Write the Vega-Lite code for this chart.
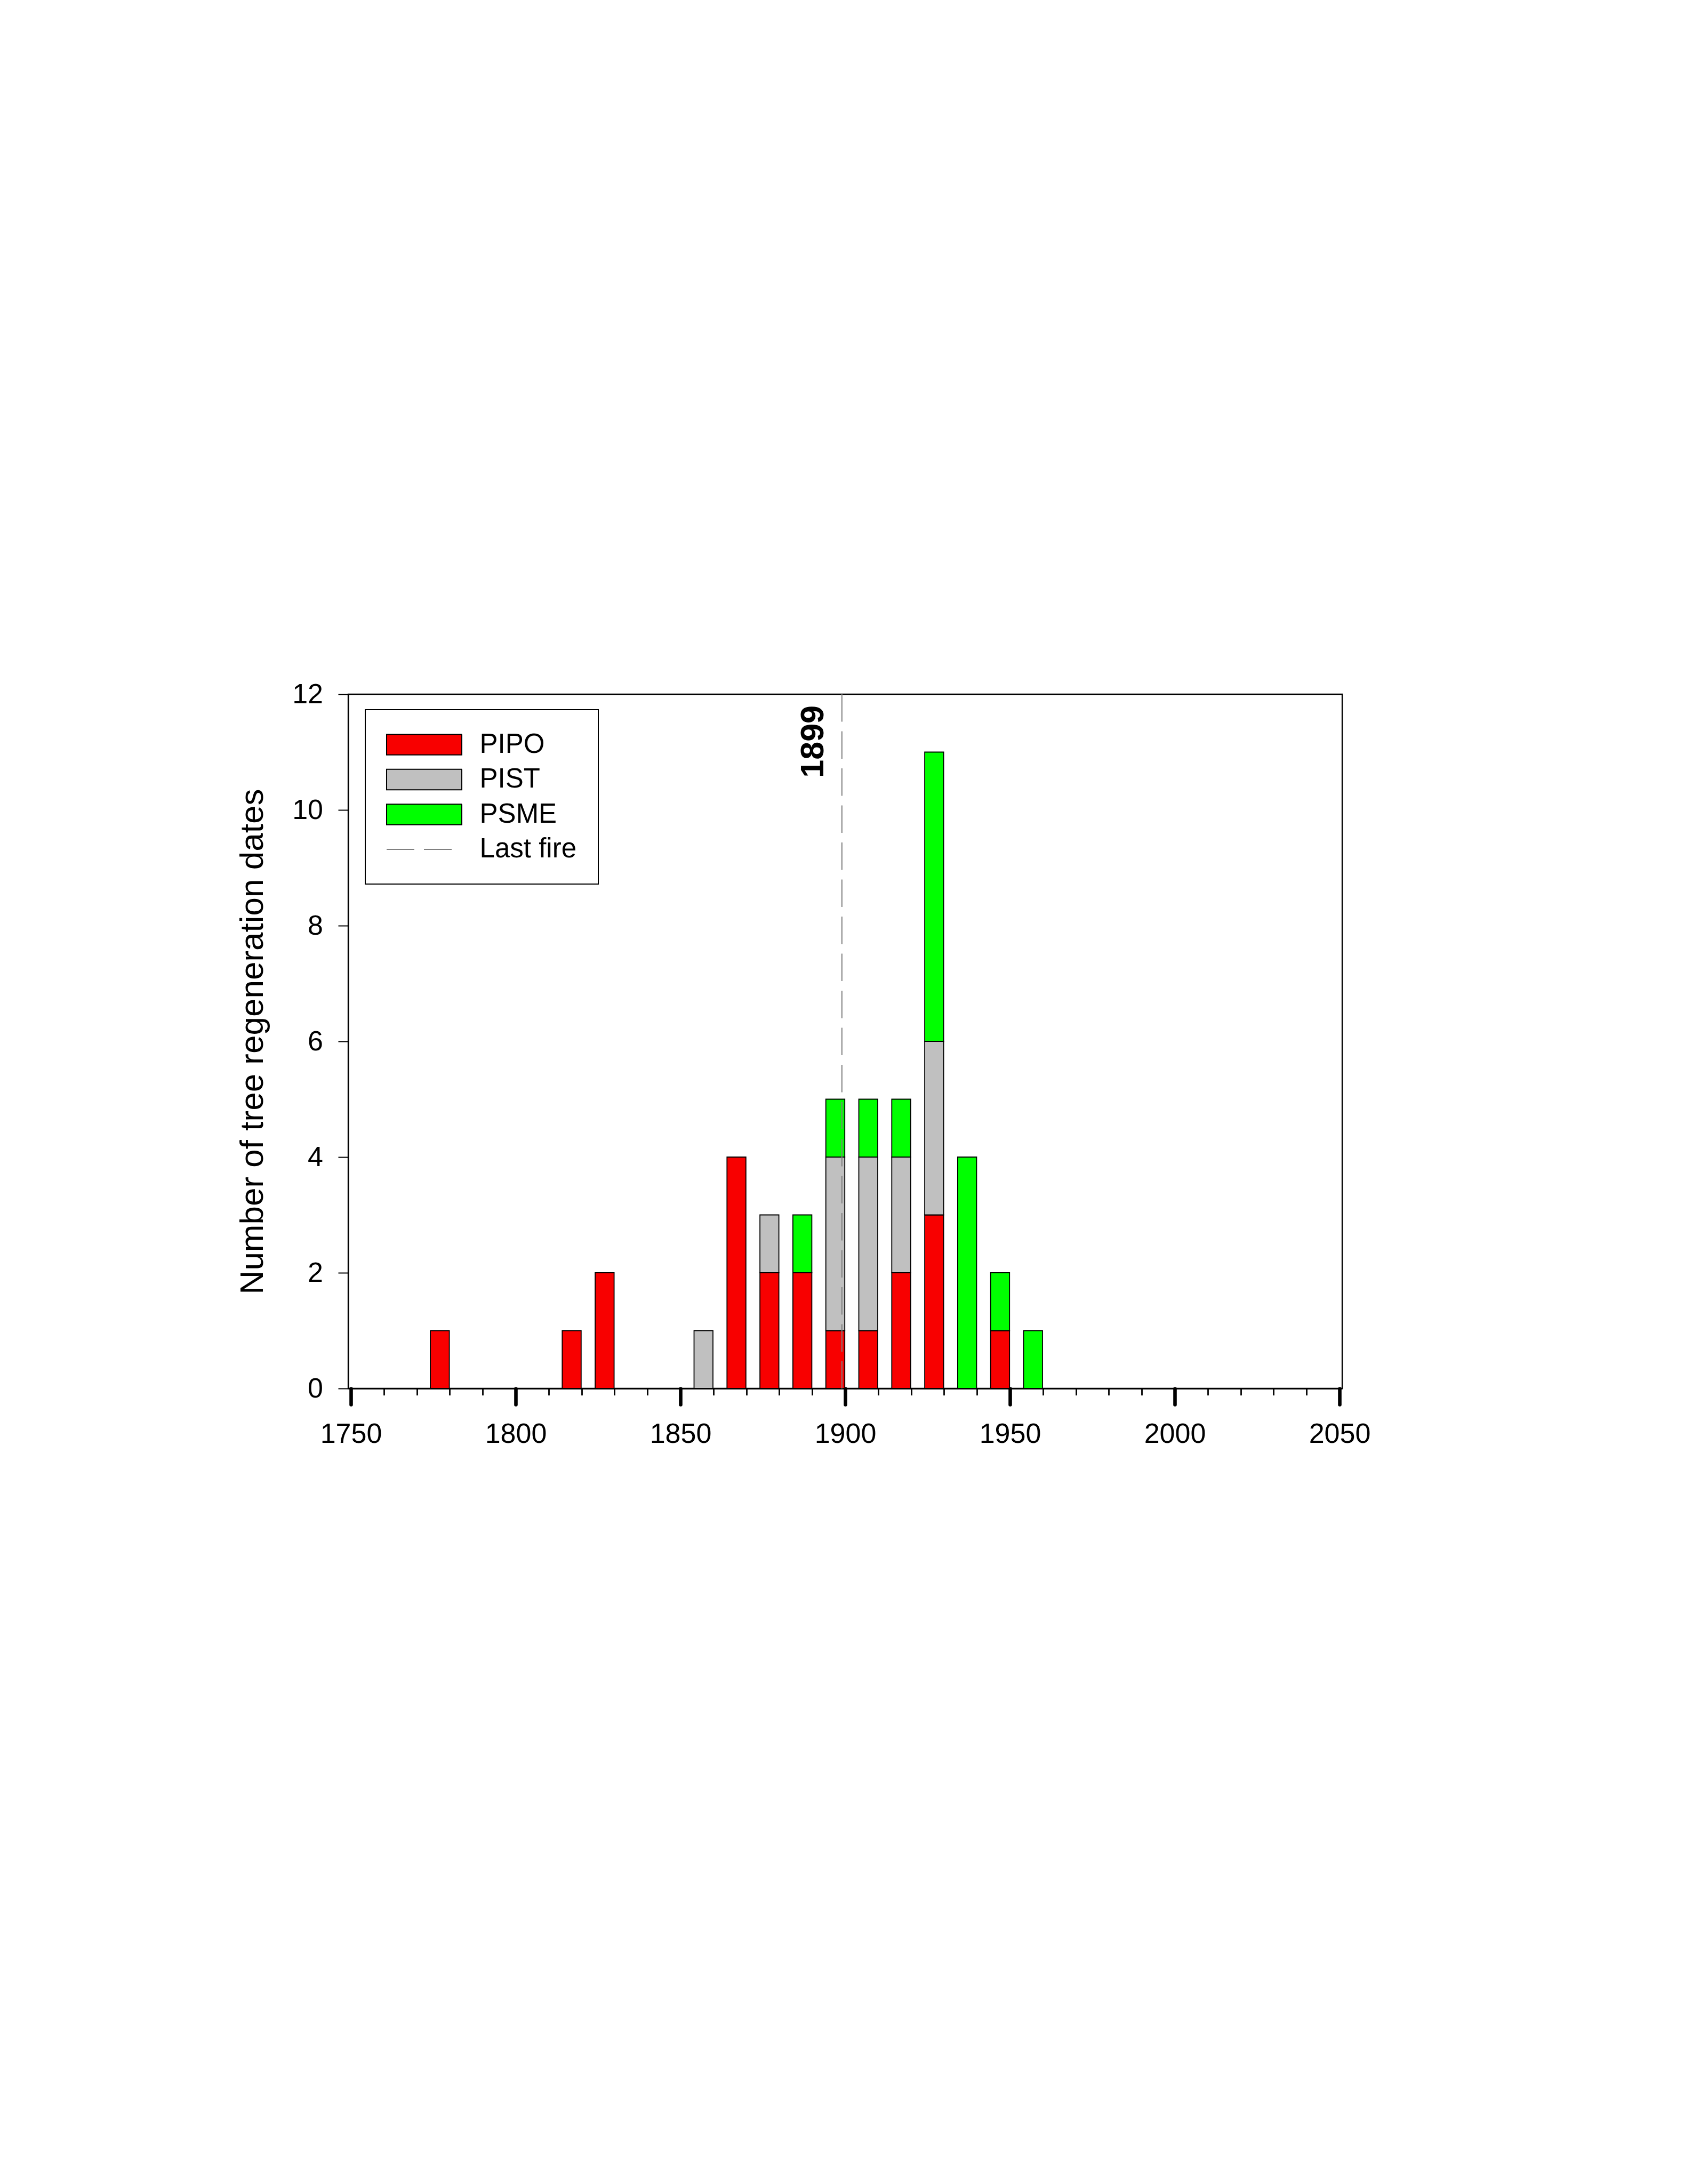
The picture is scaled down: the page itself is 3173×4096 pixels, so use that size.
{
  "$schema": "https://vega.github.io/schema/vega-lite/v6.json",
  "autosize": "none",
  "width": 1864,
  "height": 1302,
  "padding": {"left": 653, "top": 1302, "right": 656, "bottom": 1492},
  "background": "white",
  "config": {
    "font": "Liberation Sans",
    "view": {"stroke": "black", "strokeWidth": 2.3}
  },
  "datasets": {
    "regen": [
      {"year": 1777, "species": "PIPO", "count": 1},
      {"year": 1817, "species": "PIPO", "count": 1},
      {"year": 1827, "species": "PIPO", "count": 2},
      {"year": 1857, "species": "PIST", "count": 1},
      {"year": 1867, "species": "PIPO", "count": 4},
      {"year": 1877, "species": "PIPO", "count": 2},
      {"year": 1877, "species": "PIST", "count": 1},
      {"year": 1887, "species": "PIPO", "count": 2},
      {"year": 1887, "species": "PSME", "count": 1},
      {"year": 1897, "species": "PIPO", "count": 1},
      {"year": 1897, "species": "PIST", "count": 3},
      {"year": 1897, "species": "PSME", "count": 1},
      {"year": 1907, "species": "PIPO", "count": 1},
      {"year": 1907, "species": "PIST", "count": 3},
      {"year": 1907, "species": "PSME", "count": 1},
      {"year": 1917, "species": "PIPO", "count": 2},
      {"year": 1917, "species": "PIST", "count": 2},
      {"year": 1917, "species": "PSME", "count": 1},
      {"year": 1927, "species": "PIPO", "count": 3},
      {"year": 1927, "species": "PIST", "count": 3},
      {"year": 1927, "species": "PSME", "count": 5},
      {"year": 1937, "species": "PSME", "count": 4},
      {"year": 1947, "species": "PIPO", "count": 1},
      {"year": 1947, "species": "PSME", "count": 1},
      {"year": 1957, "species": "PSME", "count": 1}
    ],
    "fire": [
      {"year": 1899, "label": "1899"}
    ]
  },
  "layer": [
    {
      "data": {"name": "regen"},
      "mark": {"type": "bar", "size": 35.5, "stroke": "black", "strokeWidth": 1.8},
      "encoding": {
        "x": {
          "field": "year", "type": "quantitative",
          "scale": {"domain": [1750, 2050], "nice": false, "zero": false},
          "axis": {
            "orient": "bottom",
            "values": [1750, 1800, 1850, 1900, 1950, 2000, 2050],
            "format": "d",
            "title": null,
            "grid": false,
            "domainColor": "black", "domainWidth": 2.4,
            "tickColor": "black", "tickSize": 30, "tickWidth": 6.6, "tickCap": "round",
            "labelFontSize": 52, "labelColor": "black", "labelPadding": 30.7,
            "labelFlush": false, "labelOverlap": false
          }
        },
        "y": {
          "field": "count", "type": "quantitative", "aggregate": "sum", "stack": "zero",
          "scale": {"domain": [0, 12], "nice": false},
          "axis": {
            "orient": "left",
            "values": [0, 2, 4, 6, 8, 10, 12],
            "title": "Number of tree regeneration dates",
            "titleFontSize": 62, "titleFontWeight": "normal", "titleColor": "black", "titlePadding": 42,
            "grid": false,
            "domainColor": "black", "domainWidth": 2.4,
            "tickColor": "black", "tickSize": 19, "tickWidth": 2,
            "labelFontSize": 52, "labelColor": "black", "labelPadding": 28.5,
            "labelFlush": false, "labelOverlap": false
          }
        },
        "color": {
          "field": "species", "type": "nominal",
          "scale": {"domain": ["PIPO", "PIST", "PSME", "Last fire"], "range": ["#f80000", "#c0c0c0", "#00ff00", "transparent"]},
          "legend": {
            "title": null,
            "orient": "none", "legendX": 32, "legendY": 29,
            "fillColor": "white", "strokeColor": "black",
            "padding": 40,
            "labelFontSize": 51, "labelColor": "black", "labelOffset": 123.6, "labelLimit": 500,
            "symbolSize": 400, "rowPadding": 13.5,
            "symbolStrokeColor": "black", "symbolStrokeWidth": 2, "symbolOpacity": 1,
            "encode": {
              "legend": {"update": {"strokeWidth": {"value": 2}}},
              "symbols": {
                "update": {
                  "shape": {"signal": "datum.value === 'Last fire' ? 'M-2.55,0H9.65' : 'M-2.55,-1.92H11.55V1.92H-2.55Z'"},
                  "stroke": {"signal": "datum.value === 'Last fire' ? '#808080' : 'black'"},
                  "strokeDash": {"signal": "datum.value === 'Last fire' ? [52, 18] : [1, 0]"}
                }
              }
            }
          }
        },
        "order": {"field": "species", "sort": "ascending"}
      }
    },
    {
      "data": {"name": "fire"},
      "mark": {"type": "rule", "stroke": "#808080", "strokeWidth": 2, "strokeDash": [51.5, 18]},
      "encoding": {
        "x": {
          "field": "year", "type": "quantitative",
          "scale": {"domain": [1750, 2050], "nice": false, "zero": false},
          "axis": {
            "orient": "bottom",
            "values": [1760, 1770, 1780, 1790, 1810, 1820, 1830, 1840, 1860, 1870, 1880, 1890, 1910, 1920, 1930, 1940, 1960, 1970, 1980, 1990, 2010, 2020, 2030, 2040],
            "title": null, "grid": false, "labels": false, "domain": false,
            "tickColor": "black", "tickSize": 12.6, "tickWidth": 2.8
          }
        }
      }
    },
    {
      "data": {"name": "fire"},
      "mark": {"type": "text", "angle": 270, "align": "right", "baseline": "alphabetic", "dx": -21, "dy": -34.7, "fontSize": 61, "fontWeight": "bold", "color": "black"},
      "encoding": {
        "x": {"field": "year", "type": "quantitative", "scale": {"domain": [1750, 2050], "nice": false, "zero": false}, "axis": null},
        "y": {"datum": 12, "type": "quantitative", "axis": null},
        "text": {"field": "label"}
      }
    }
  ],
  "resolve": {"axis": {"x": "independent", "y": "independent"}}
}
